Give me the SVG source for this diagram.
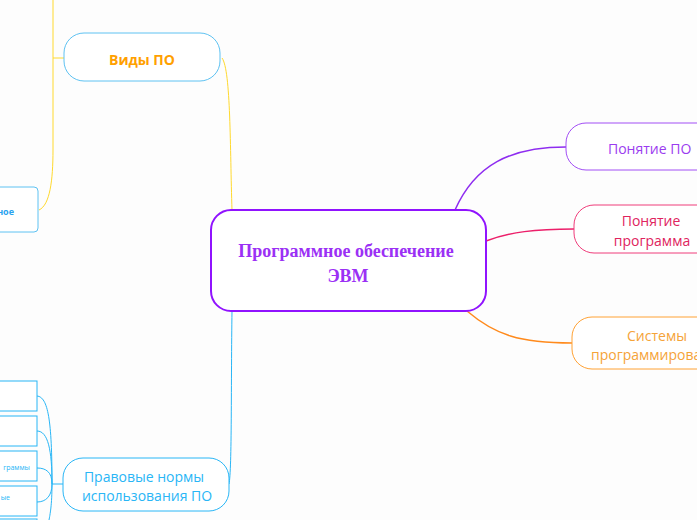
<svg xmlns="http://www.w3.org/2000/svg" width="697" height="520" viewBox="0 0 697 520">
<style>
.t{font-family:"Open Sans","Noto Sans",sans-serif}
.c{fill:none}
</style>
<rect width="697" height="520" fill="#fdfdfd"/>
<g id="connectors" class="c">
<path d="M232,210 C230,150 231,70 222,58" stroke="#ffd92e" stroke-width="1"/>
<path d="M53,0 L53,150 C53,180 50,205 39,210" stroke="#ffd92e" stroke-width="1"/>
<path d="M53,58 L64,58" stroke="#ffd92e" stroke-width="1"/>
<path d="M232,311 C231,380 232,470 229,484" stroke="#29b6f6" stroke-width="1"/>
<path d="M63,484 L52,484" stroke="#29b6f6" stroke-width="1"/>
<path d="M52,484 C52,420 48,397 37,396" stroke="#29b6f6" stroke-width="1"/>
<path d="M52,484 C52,450 48,431 37,431" stroke="#29b6f6" stroke-width="1"/>
<path d="M52,484 C52,472 46,468 37,468" stroke="#29b6f6" stroke-width="1"/>
<path d="M52,484 C52,496 46,502 37,502" stroke="#29b6f6" stroke-width="1"/>
<path d="M52,484 C52,505 50,515 49,520" stroke="#29b6f6" stroke-width="1"/>
<path d="M455,210 C475,165 510,147 566,147" stroke="#8e2cf0" stroke-width="1.5"/>
<path d="M486,241 C510,232 535,229 574,229" stroke="#ec1f6a" stroke-width="1.5"/>
<path d="M467,311 C495,335 520,343 572,343" stroke="#ff8a1c" stroke-width="1.5"/>
</g>
<g id="root">
<rect x="211" y="210" width="275" height="101" rx="20" fill="#fff" stroke="#9013fe" stroke-width="2"/>
<text x="346" y="257" text-anchor="middle" font-family="Liberation Serif,serif" font-weight="bold" font-size="18" fill="#9b30f5">Программное обеспечение</text>
<text x="348" y="282" text-anchor="middle" font-family="Liberation Serif,serif" font-weight="bold" font-size="18" fill="#9b30f5">ЭВМ</text>
</g>
<g id="vidy">
<rect x="64" y="33" width="156" height="48" rx="20" fill="#fff" stroke="#5ec2f2" stroke-width="1"/>
<text class="t" x="142" y="65" text-anchor="middle" font-weight="bold" font-size="14" fill="#ffa000">Виды ПО</text>
</g>
<g id="vid-left">
<rect x="-10" y="187" width="48" height="45" rx="4" fill="#fff" stroke="#5ec2f2" stroke-width="1"/>
<text class="t" x="14" y="215" text-anchor="end" font-weight="bold" font-size="9" fill="#2aa3ef">ное</text>
</g>
<g id="pravo">
<rect x="63" y="458" width="166" height="53" rx="20" fill="#fff" stroke="#29b6f6" stroke-width="1"/>
<text class="t" x="144" y="482" text-anchor="middle" font-size="14" fill="#29b6f6">Правовые нормы</text>
<text class="t" x="147" y="501" text-anchor="middle" font-size="14" fill="#29b6f6">использования ПО</text>
</g>
<g id="p1"><rect x="-10" y="381" width="47" height="30" fill="#fff" stroke="#29b6f6" stroke-width="1"/></g>
<g id="p2"><rect x="-10" y="416" width="47" height="30" fill="#fff" stroke="#29b6f6" stroke-width="1"/></g>
<g id="p3"><rect x="-10" y="451" width="47" height="30" fill="#fff" stroke="#29b6f6" stroke-width="1"/>
<text class="t" x="30" y="470" text-anchor="end" font-size="7" fill="#29b6f6">граммы</text></g>
<g id="p4"><rect x="-10" y="486" width="47" height="30" fill="#fff" stroke="#29b6f6" stroke-width="1"/>
<text class="t" x="10" y="500" text-anchor="end" font-size="7" fill="#29b6f6">ые</text></g>
<g id="p5"><rect x="-10" y="519" width="47" height="30" fill="#fff" stroke="#29b6f6" stroke-width="1"/></g>
<g id="ponyatie-po">
<rect x="566" y="123" width="160" height="47" rx="20" fill="#fff" stroke="#a24ef5" stroke-width="1"/>
<text class="t" x="608" y="154" font-size="14" fill="#9b3cf0">Понятие ПО</text>
</g>
<g id="ponyatie-prog">
<rect x="574" y="205" width="160" height="48" rx="20" fill="#fff" stroke="#ef3c7a" stroke-width="1"/>
<text class="t" x="651" y="226" text-anchor="middle" font-size="14" fill="#e0245e">Понятие</text>
<text class="t" x="652" y="246" text-anchor="middle" font-size="14" fill="#e0245e">программа</text>
</g>
<g id="sistemy">
<rect x="572" y="317" width="170" height="52" rx="20" fill="#fff" stroke="#ffa235" stroke-width="1"/>
<text class="t" x="657" y="341" text-anchor="middle" font-size="14" fill="#f5a338">Системы</text>
<text class="t" x="591" y="360" font-size="14" fill="#f5a338">программирования</text>
</g>
</svg>
